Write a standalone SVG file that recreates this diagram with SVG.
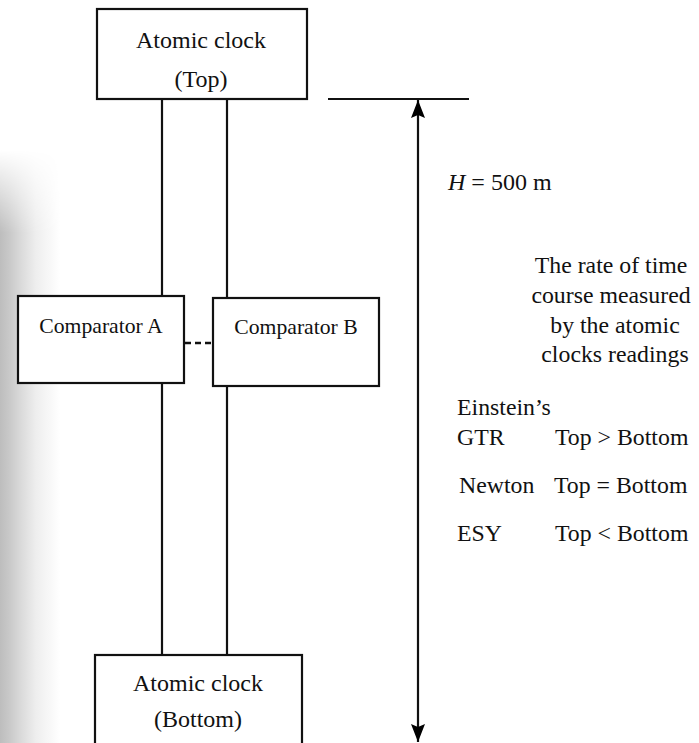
<svg xmlns="http://www.w3.org/2000/svg" width="699" height="743" viewBox="0 0 699 743">
<defs>
<linearGradient id="shadeX" x1="0" y1="0" x2="1" y2="0">
<stop offset="0" stop-color="#bdbdbd"/>
<stop offset="0.15" stop-color="#c8c8c8"/>
<stop offset="0.35" stop-color="#dadada"/>
<stop offset="0.6" stop-color="#eeeeee"/>
<stop offset="1" stop-color="#ffffff"/>
</linearGradient>
<linearGradient id="fadeY" x1="0" y1="0" x2="0" y2="1">
<stop offset="0" stop-color="#000"/>
<stop offset="0.14" stop-color="#fff"/>
<stop offset="1" stop-color="#fff"/>
</linearGradient>
<mask id="shadeMask" maskUnits="userSpaceOnUse" x="0" y="150" width="60" height="593">
<rect x="0" y="150" width="60" height="593" fill="url(#fadeY)"/>
</mask>
<marker id="arrowHead" markerWidth="18" markerHeight="14" refX="18" refY="7" orient="auto-start-reverse" markerUnits="userSpaceOnUse" viewBox="0 0 18 14">
<polygon points="0,0 18,7 0,14 3,7" fill="#000"/>
</marker>
<style>
.box{fill:#fff;stroke:#111;stroke-width:2.2}
.ln{fill:none;stroke:#111;stroke-width:2.2}
.dash{fill:none;stroke:#111;stroke-width:2.6;stroke-dasharray:6,4}
text{font-family:"Liberation Serif","Times New Roman",serif;fill:#111}
.big{font-size:24px}
.mid{font-size:21.7px}
.tbl{font-size:23.8px}
</style>
</defs>
<rect x="0" y="0" width="699" height="743" fill="#fff"/>
<rect x="0" y="150" width="60" height="593" fill="url(#shadeX)" mask="url(#shadeMask)"/>

<g id="connectors">
<line class="ln" x1="162" y1="99" x2="162" y2="296"/>
<line class="ln" x1="227" y1="99" x2="227" y2="298"/>
<line class="ln" x1="162" y1="383" x2="162" y2="655"/>
<line class="ln" x1="227" y1="386" x2="227" y2="655"/>
<line class="dash" x1="185" y1="343" x2="212" y2="343"/>
<line class="ln" x1="328" y1="99" x2="469" y2="99"/>
<line class="ln" x1="418" y1="100" x2="418" y2="742" marker-start="url(#arrowHead)" marker-end="url(#arrowHead)"/>
</g>

<g id="clock-top">
<rect class="box" x="97" y="9" width="210" height="90"/>
<text class="big" x="201" y="48" text-anchor="middle">Atomic clock</text>
<text class="big" x="201" y="87" text-anchor="middle">(Top)</text>
</g>

<g id="comparator-a">
<rect class="box" x="18" y="296" width="166" height="87"/>
<text class="mid" x="101" y="333" text-anchor="middle">Comparator A</text>
</g>

<g id="comparator-b">
<rect class="box" x="213" y="298" width="166" height="88"/>
<text class="mid" x="296" y="334" text-anchor="middle">Comparator B</text>
</g>

<g id="clock-bottom">
<rect class="box" x="95" y="655" width="207" height="100"/>
<text class="big" x="198" y="691" text-anchor="middle">Atomic clock</text>
<text class="big" x="198" y="727" text-anchor="middle">(Bottom)</text>
</g>

<g id="height-label">
<text class="big" x="448" y="190"><tspan font-style="italic">H</tspan> = 500 m</text>
</g>

<g id="legend">
<text class="tbl" text-anchor="middle">
<tspan x="614" y="273">The rate of time</tspan>
<tspan x="614" y="303">course measured</tspan>
<tspan x="618" y="333">by the atomic</tspan>
<tspan x="615" y="362">clocks readings</tspan>
</text>
<text class="tbl" x="457" y="415">Einstein’s</text>
<text class="tbl" x="457" y="445">GTR</text>
<text class="tbl" x="555" y="445">Top &gt; Bottom</text>
<text class="tbl" x="459" y="493">Newton</text>
<text class="tbl" x="554" y="493">Top = Bottom</text>
<text class="tbl" x="457" y="541">ESY</text>
<text class="tbl" x="555" y="541">Top &lt; Bottom</text>
</g>
</svg>
